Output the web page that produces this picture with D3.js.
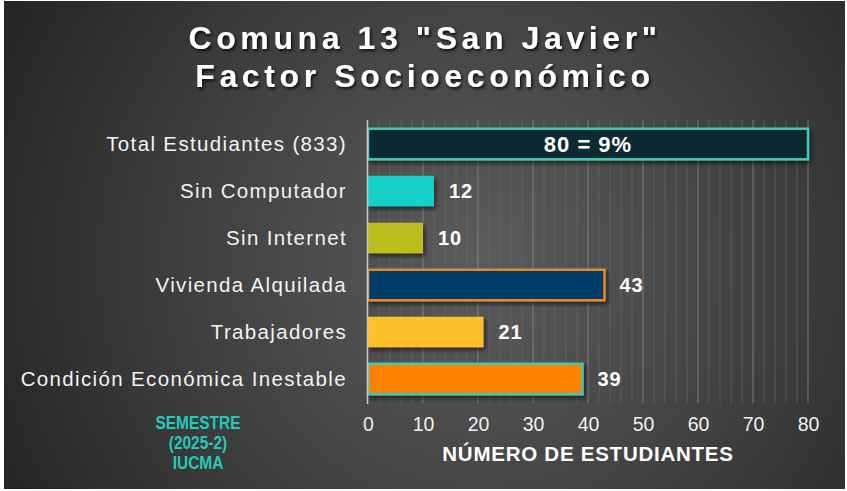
<!DOCTYPE html>
<html><head><meta charset="utf-8">
<script src="https://cdn.jsdelivr.net/npm/d3@7"></script>
<style>html,body{margin:0;padding:0;background:#fff;overflow:hidden}</style>
</head><body><div id="chart"></div>
<script>
const categories = ["Total Estudiantes (833)","Sin Computador","Sin Internet","Vivienda Alquilada","Trabajadores","Condición Económica Inestable"];
const values = [80,12,10,43,21,39];
const valueLabels = ["80 = 9%","12","10","43","21","39"];
const fills = ["#0d2a32","#14cfc9","#bcbd1d","#003e6b","#fdc02b","#fe8204"];
const strokes = ["#3fcab5",null,null,"#e58a2a",null,"#3fcab5"];
const xTicks = [0,10,20,30,40,50,60,70,80];
const titleLines = ['Comuna 13 "San Javier"','Factor Socioeconómico'];
const noteLines = ["SEMESTRE","(2025-2)","IUCMA"];
const xTitle = "NÚMERO DE ESTUDIANTES";

const W=847,H=491;
const FF="Liberation Sans, Arial, sans-serif";
const svg=d3.select("#chart").append("svg").attr("width",W).attr("height",H);
const defs=svg.append("defs");
const rg=defs.append("radialGradient").attr("id","bg").attr("gradientUnits","userSpaceOnUse")
  .attr("cx",480).attr("cy",260).attr("r",520);
rg.append("stop").attr("offset","0").attr("stop-color","#5c5c5c");
rg.append("stop").attr("offset","0.55").attr("stop-color","#404040");
rg.append("stop").attr("offset","1").attr("stop-color","#262626");
const sh=defs.append("filter").attr("id","sh").attr("x","-10%").attr("y","-30%").attr("width","130%").attr("height","180%");
sh.append("feDropShadow").attr("dx",2).attr("dy",3).attr("stdDeviation",2).attr("flood-color","#000").attr("flood-opacity",0.55);
const tsh=defs.append("filter").attr("id","tsh").attr("x","-10%").attr("y","-30%").attr("width","120%").attr("height","170%");
tsh.append("feDropShadow").attr("dx",1.5).attr("dy",2).attr("stdDeviation",1.5).attr("flood-color","#000").attr("flood-opacity",0.8);

svg.append("rect").attr("width",W).attr("height",H).attr("fill","#fff");
svg.append("rect").attr("x",4).attr("y",1).attr("width",W-6).attr("height",H-3).attr("fill","url(#bg)");

// title
svg.append("g").attr("filter","url(#tsh)").selectAll("text").data(titleLines).join("text")
  .attr("x",425).attr("y",(d,i)=>48.5+i*38.5).attr("text-anchor","middle")
  .attr("font-family",FF).attr("font-weight","bold")
  .attr("font-size",32).attr("letter-spacing",4.6).attr("fill","#fff").text(d=>d);

const x=d3.scaleLinear().domain([0,80]).range([368,808]);
const y=d3.scaleBand().domain(categories).range([120.5,402.5]).paddingInner(0.35).paddingOuter(0.175);

// grid
const g=svg.append("g");
g.selectAll("line.minor").data(d3.range(0,81,2).filter(v=>v%10!==0)).join("line")
  .attr("x1",d=>x(d)).attr("x2",d=>x(d)).attr("y1",120).attr("y2",403)
  .attr("stroke","#6a6a6a").attr("stroke-width",1).attr("opacity",0.6);
g.selectAll("line.major").data(xTicks.filter(v=>v>0)).join("line")
  .attr("x1",d=>x(d)).attr("x2",d=>x(d)).attr("y1",120).attr("y2",403)
  .attr("stroke","#8a8a8a").attr("stroke-width",1).attr("opacity",0.8);

// bars
const bars=svg.append("g").attr("filter","url(#sh)");
bars.selectAll("rect").data(values).join("rect")
  .attr("x",x(0)).attr("y",(d,i)=>y(categories[i]))
  .attr("width",d=>x(d)-x(0)).attr("height",y.bandwidth())
  .attr("fill",(d,i)=>fills[i])
  .attr("stroke",(d,i)=>strokes[i]||"none").attr("stroke-width",2.5);

// axis line
svg.append("line").attr("x1",x(0)-0.5).attr("x2",x(0)-0.5).attr("y1",120).attr("y2",404)
  .attr("stroke","#c8c8c8").attr("stroke-width",1.5);

// category labels
svg.append("g").selectAll("text").data(categories).join("text")
  .attr("x",347).attr("y",d=>y(d)+y.bandwidth()/2).attr("dy","0.36em").attr("text-anchor","end")
  .attr("font-family",FF).attr("font-size",20.5).attr("letter-spacing",1.35).attr("fill","#f2f2f2")
  .text(d=>d);

// value labels
svg.append("g").selectAll("text").data(values).join("text")
  .attr("x",(d,i)=>i===0?(x(0)+x(d))/2:x(d)+15)
  .attr("y",(d,i)=>y(categories[i])+y.bandwidth()/2).attr("dy","0.36em")
  .attr("text-anchor",(d,i)=>i===0?"middle":"start")
  .attr("font-family",FF).attr("font-weight","bold")
  .attr("font-size",(d,i)=>i===0?22:20).attr("letter-spacing",1).attr("fill","#fff")
  .text((d,i)=>valueLabels[i]);

// x axis
const ax=svg.append("g").attr("transform","translate(0,404)")
  .call(d3.axisBottom(x).tickValues(xTicks).tickSize(0).tickPadding(13));
ax.select(".domain").remove();
ax.selectAll("text").attr("font-family",FF).attr("font-size",19.5).attr("fill","#f0f0f0");

svg.append("text").attr("x",588).attr("y",460.5).attr("text-anchor","middle")
  .attr("font-family",FF).attr("font-weight","bold").attr("letter-spacing",0.75)
  .attr("font-size",20.5).attr("fill","#fff").text(xTitle);

svg.append("g").attr("transform","translate(198,0) scale(0.86,1)").selectAll("text").data(noteLines).join("text")
  .attr("x",0).attr("y",(d,i)=>429.5+i*19.5).attr("text-anchor","middle")
  .attr("font-family",FF).attr("font-weight","bold")
  .attr("font-size",18).attr("fill","#22c9be").text(d=>d);
</script></body></html>
